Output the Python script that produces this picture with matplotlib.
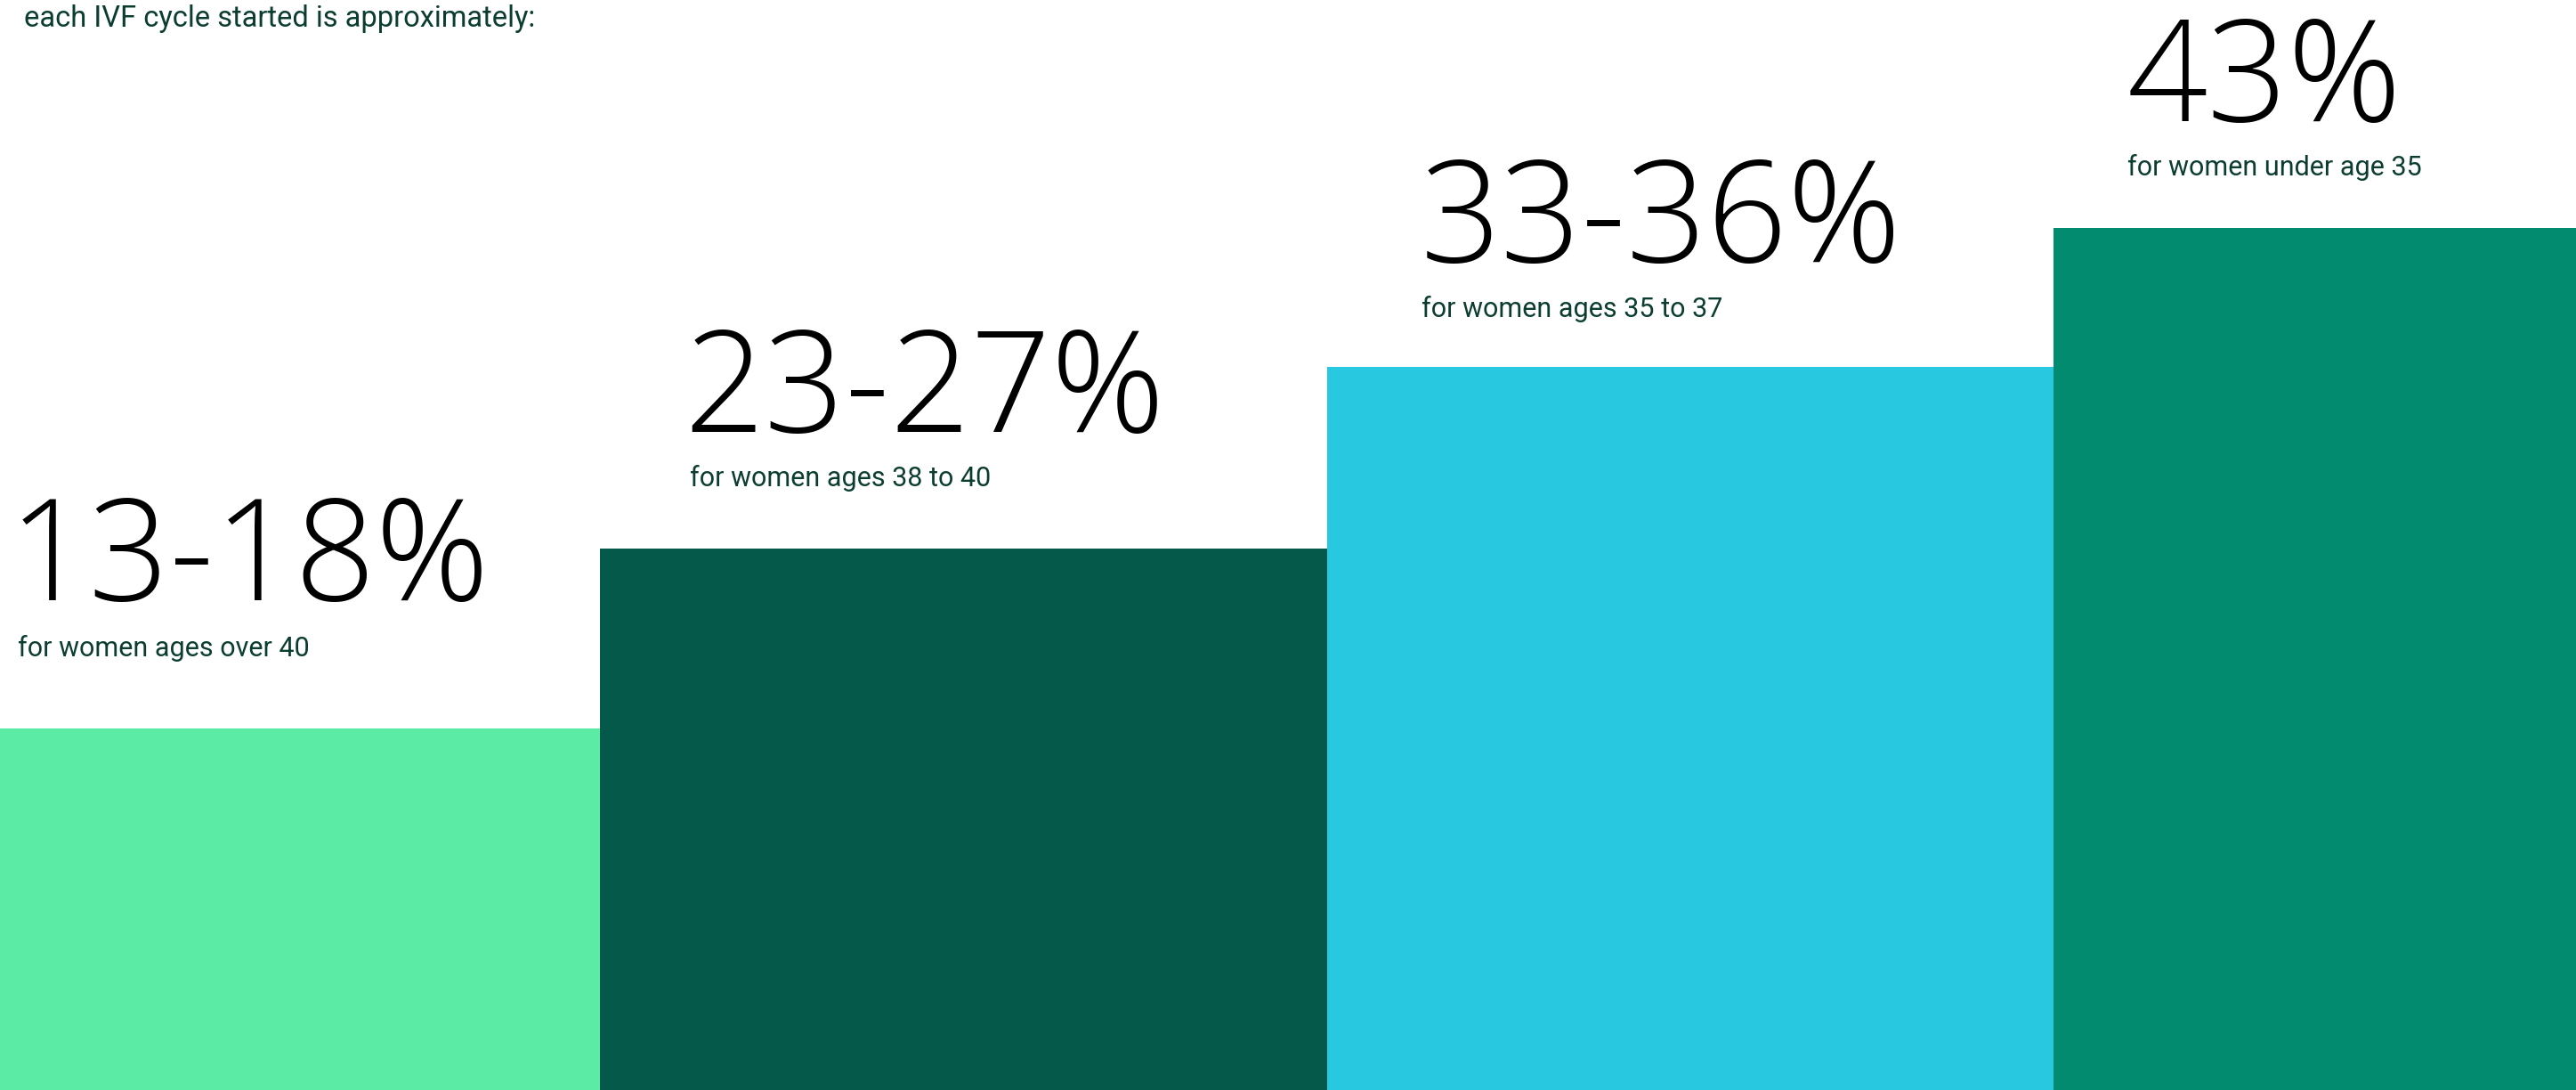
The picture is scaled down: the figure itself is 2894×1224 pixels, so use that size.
import matplotlib
matplotlib.use("Agg")
import matplotlib.pyplot as plt

# ---- data ----
range_labels = ["13-18%", "23-27%", "33-36%", "43%"]
group_labels = ["for women ages over 40", "for women ages 38 to 40",
                "for women ages 35 to 37", "for women under age 35"]
bar_values = [33.2, 49.7, 66.3, 79.1]
bar_colors = ["#5CEBA4", "#04594B", "#28C9E0", "#038B70"]
intro_text = "each IVF cycle started is approximately:"

# ---- layout (pixels) ----
W, H = 2894, 1224
num_x = [10, 768, 1596, 2390]
num_y = [674, 485, 294, 136]
sub_x = [20, 775, 1597, 2390]
sub_y = [737, 546, 356, 197]

fig = plt.figure(figsize=(W / 100, H / 100), dpi=100)
ax = fig.add_axes([0, 0, 1, 1])
ax.set_axis_off()

bar_px = 816.5
x0 = 1 - 674 / bar_px
ax.bar(range(len(bar_values)), bar_values, width=1, align="edge",
       color=bar_colors, linewidth=0)
ax.set_xlim(x0, x0 + W / bar_px)
ax.set_ylim(0, 100)

def fx(px):
    return px / W

def fy(py):
    return 1 - py / H

for lab, x, y in zip(range_labels, num_x, num_y):
    fig.text(fx(x), fy(y), lab, fontsize=114, family="Open Sans", fontweight="light",
             color="#000000", va="baseline", ha="left")
for lab, x, y in zip(group_labels, sub_x, sub_y):
    fig.text(fx(x), fy(y), lab, fontsize=22, family="Roboto",
             color="#0B3D30", va="baseline", ha="left")

fig.text(fx(27), fy(30), intro_text, fontsize=23.5, family="Roboto",
         color="#0B3D30", va="baseline", ha="left")

fig.savefig("out.png", dpi=100)
